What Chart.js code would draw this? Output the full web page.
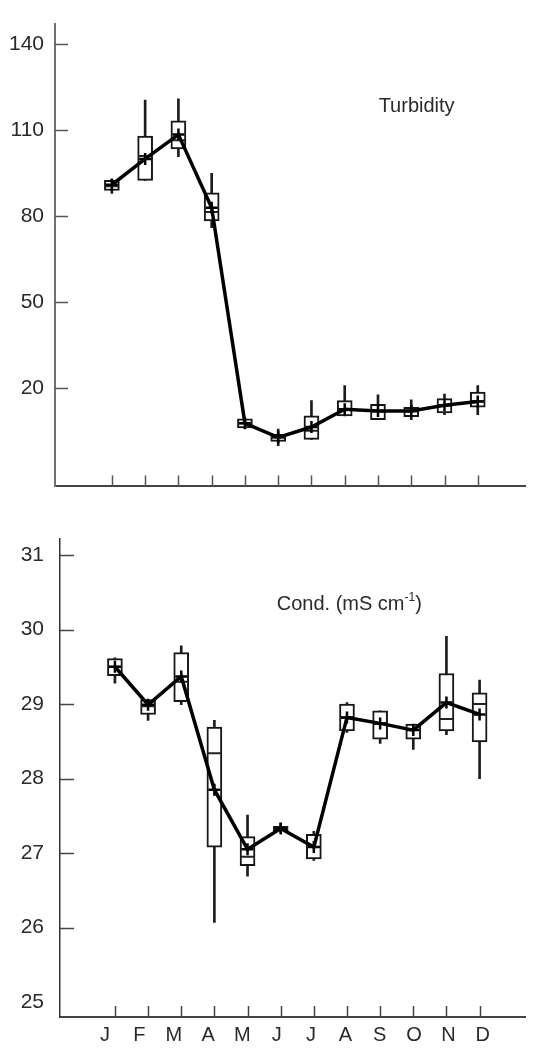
<!DOCTYPE html>
<html>
<head>
<meta charset="utf-8">
<script src="https://cdn.jsdelivr.net/npm/chart.js@4.4.1/dist/chart.umd.min.js"></script>
<style>
  html, body { margin: 0; padding: 0; background: #fff; }
  #wrap { position: relative; width: 534px; height: 1048px; overflow: hidden; }
  #wrap canvas { position: absolute; left: 0; }
  #turb { top: 0; }
  #cond { top: 510px; }
</style>
</head>
<body>
<div id="wrap">
  <canvas id="turb" width="534" height="510"></canvas>
  <canvas id="cond" width="534" height="538"></canvas>
</div>
<script>
// Month categories (x positions are the index 0..11)
const months = ['J', 'F', 'M', 'A', 'M', 'J', 'J', 'A', 'S', 'O', 'N', 'D'];

// Turbidity: mean line, box stats
const turbMean   = [91, 100, 108.5, 83, 7.8, 2.9, 6.5, 12.7, 12.1, 12.1, 14.1, 15.4];
const turbMedian = [90.5, 101, 106.5, 81.5, 7.8, 2.9, 5.2, 12.7, 12, 12, 14, 15.5];
const turbQ1     = [89, 92.5, 103.5, 78.4, 6.2, 1.5, 2.2, 10.4, 9.1, 10.1, 11.4, 13.4];
const turbQ3     = [92.5, 108, 113.3, 88.2, 9.4, 4, 10.4, 15.7, 14.4, 13.4, 16.4, 18.7];
const turbMin    = [88, 92.5, 100.8, 76, 6, 0, 2.2, 10.4, 9.1, 9.1, 10.8, 10.8];
const turbMax    = [93, 120.5, 121, 95, 9.5, 5.8, 15.7, 21, 17.7, 16, 18, 21];
const turbTicks  = [20, 50, 80, 110, 140];

// Conductivity (mS cm-1)
const condMean   = [29.5, 28.99, 29.37, 27.85, 27.05, 27.33, 27.08, 28.82, 28.74, 28.65, 29.02, 28.86];
const condMedian = [29.5, 28.97, 29.3, 28.34, 26.95, 27.33, 27.08, 28.82, 28.74, 28.65, 28.8, 29.0];
const condQ1     = [29.38, 28.86, 29.03, 27.08, 26.83, 27.3, 26.92, 28.64, 28.53, 28.53, 28.64, 28.49];
const condQ3     = [29.61, 29.06, 29.69, 28.69, 27.22, 27.36, 27.25, 29.0, 28.91, 28.73, 29.41, 29.15];
const condMin    = [29.28, 28.78, 28.99, 26.07, 26.69, 27.28, 26.9, 28.62, 28.47, 28.39, 28.59, 28.0];
const condMax    = [29.62, 29.06, 29.78, 28.78, 27.51, 27.4, 27.29, 29.02, 28.91, 28.73, 29.91, 29.32];
const condTicks  = [25, 26, 27, 28, 29, 30, 31];
const condMarks  = [26, 27, 28, 29, 30, 31];

const idx = months.map((m, i) => i);
const FONT = "'Liberation Sans', Arial, sans-serif";

function boxDatasets(mean, median, q1, q3, lo, hi) {
  return [
    { // whiskers
      type: 'bar', xAxisID: 'x', order: 4, grouped: false,
      data: idx.map(i => ({ x: i, y: [lo[i], hi[i]] })),
      barThickness: 2, backgroundColor: '#1c1c1c', borderWidth: 0
    },
    { // boxes
      type: 'bar', xAxisID: 'x', order: 3, grouped: false,
      data: idx.map(i => ({ x: i, y: [q1[i], q3[i]] })),
      barThickness: 15, backgroundColor: '#ffffff', borderColor: '#161616',
      borderWidth: 2, borderSkipped: false
    },
    { // medians
      type: 'scatter', xAxisID: 'x', order: 2,
      data: idx.map(i => ({ x: i, y: median[i] })),
      pointStyle: 'line', pointRadius: 7, pointBorderColor: '#222', pointBorderWidth: 2
    },
    { // monthly means
      type: 'line', xAxisID: 'x', order: 1,
      data: idx.map(i => ({ x: i, y: mean[i] })),
      borderColor: '#000', borderWidth: 3.5, tension: 0,
      pointStyle: 'cross', pointRadius: 6, pointBorderColor: '#000', pointBorderWidth: 2.5
    }
  ];
}

// inward tick marks + panel caption
const decor = {
  id: 'decor',
  beforeDatasetsDraw(chart, args, opts) {
    const { ctx, chartArea, scales } = chart;
    ctx.save();
    ctx.strokeStyle = opts.tickColor;
    ctx.lineWidth = 1.5;
    opts.yMarks.forEach(v => {
      const y = Math.round(scales.y.getPixelForValue(v)) + 0.5;
      ctx.beginPath();
      ctx.moveTo(chartArea.left, y);
      ctx.lineTo(chartArea.left + opts.yLen, y);
      ctx.stroke();
    });
    idx.forEach(i => {
      const x = Math.round(scales.x.getPixelForValue(i)) + 0.5;
      ctx.beginPath();
      ctx.moveTo(x, chartArea.bottom);
      ctx.lineTo(x, chartArea.bottom - opts.xLen);
      ctx.stroke();
    });
    ctx.restore();
  },
  afterDraw(chart, args, opts) {
    const { ctx, scales } = chart;
    const c = opts.caption;
    let x = scales.x.getPixelForValue(c.x);
    const y = scales.y.getPixelForValue(c.y);
    ctx.save();
    ctx.fillStyle = '#2a2a2a';
    ctx.textBaseline = 'alphabetic';
    ctx.textAlign = 'left';
    ctx.font = '20px ' + FONT;
    ctx.fillText(c.text, x, y);
    if (c.sup) {
      x += ctx.measureText(c.text).width;
      ctx.font = '12px ' + FONT;
      ctx.fillText(c.sup, x, y - 9);
      x += ctx.measureText(c.sup).width;
      ctx.font = '20px ' + FONT;
      ctx.fillText(c.after, x, y);
    }
    ctx.restore();
  }
};

const fixedTicks = list => scale => { scale.ticks = list.map(v => ({ value: v })); };
const noGrid = { display: false, drawTicks: false };

// --- Turbidity panel ---
new Chart(document.getElementById('turb'), {
  type: 'bar',
  data: { datasets: boxDatasets(turbMean, turbMedian, turbQ1, turbQ3, turbMin, turbMax) },
  options: {
    responsive: false,
    animation: false,
    layout: { padding: { top: 13, left: 0, right: 0, bottom: 0 } },
    plugins: {
      legend: { display: false },
      tooltip: { enabled: false },
      decor: {
        tickColor: '#555', yLen: 13, xLen: 11, yMarks: turbTicks,
        caption: { x: 8.02, y: 116.5, text: 'Turbidity' }
      }
    },
    scales: {
      x: {
        type: 'linear', min: -1.71, max: 12.42, offset: false,
        grid: noGrid,
        border: { display: true, color: '#444', width: 2 },
        ticks: { display: false },
        afterFit: s => { s.height = 6; }
      },
      y: {
        type: 'linear', min: -14.2, max: 147.2, bounds: 'data',
        grid: noGrid,
        border: { display: true, color: '#707070', width: 2 },
        afterBuildTicks: fixedTicks(turbTicks),
        ticks: { padding: 11, color: '#2a2a2a', font: { family: FONT, size: 21 } },
        afterFit: s => { s.width = 55; }
      }
    }
  },
  plugins: [decor]
});

// --- Conductivity panel ---
new Chart(document.getElementById('cond'), {
  type: 'bar',
  data: { datasets: boxDatasets(condMean, condMedian, condQ1, condQ3, condMin, condMax) },
  options: {
    responsive: false,
    animation: false,
    layout: { padding: { top: 16, left: 0, right: 0, bottom: 0 } },
    plugins: {
      legend: { display: false },
      tooltip: { enabled: false },
      decor: {
        tickColor: '#444', yLen: 14, xLen: 11, yMarks: condMarks,
        caption: { x: 4.88, y: 30.26, text: 'Cond. (mS cm', sup: '-1', after: ')' }
      }
    },
    scales: {
      x: {
        type: 'linear', position: 'bottom', weight: 0, min: -1.657, max: 12.37, offset: false,
        grid: noGrid,
        border: { display: true, color: '#444', width: 2 },
        ticks: { display: false },
        afterFit: s => { s.height = 0; }
      },
      xl: {
        type: 'linear', axis: 'x', position: 'bottom', weight: 1, min: -1.314, max: 12.23,
        offset: false, bounds: 'data',
        grid: noGrid,
        border: { display: false },
        afterBuildTicks: fixedTicks(idx),
        ticks: {
          autoSkip: false, maxRotation: 0, padding: 6, color: '#2a2a2a',
          font: { family: FONT, size: 20 },
          callback: v => months[v]
        },
        afterFit: s => { s.height = 31; }
      },
      y: {
        type: 'linear', min: 24.8, max: 31.22, bounds: 'data',
        grid: noGrid,
        border: { display: true, color: '#333', width: 1.5 },
        afterBuildTicks: fixedTicks(condTicks),
        ticks: { padding: 16, color: '#2a2a2a', font: { family: FONT, size: 21 } },
        afterFit: s => { s.width = 60; }
      }
    }
  },
  plugins: [decor]
});
</script>
</body>
</html>
